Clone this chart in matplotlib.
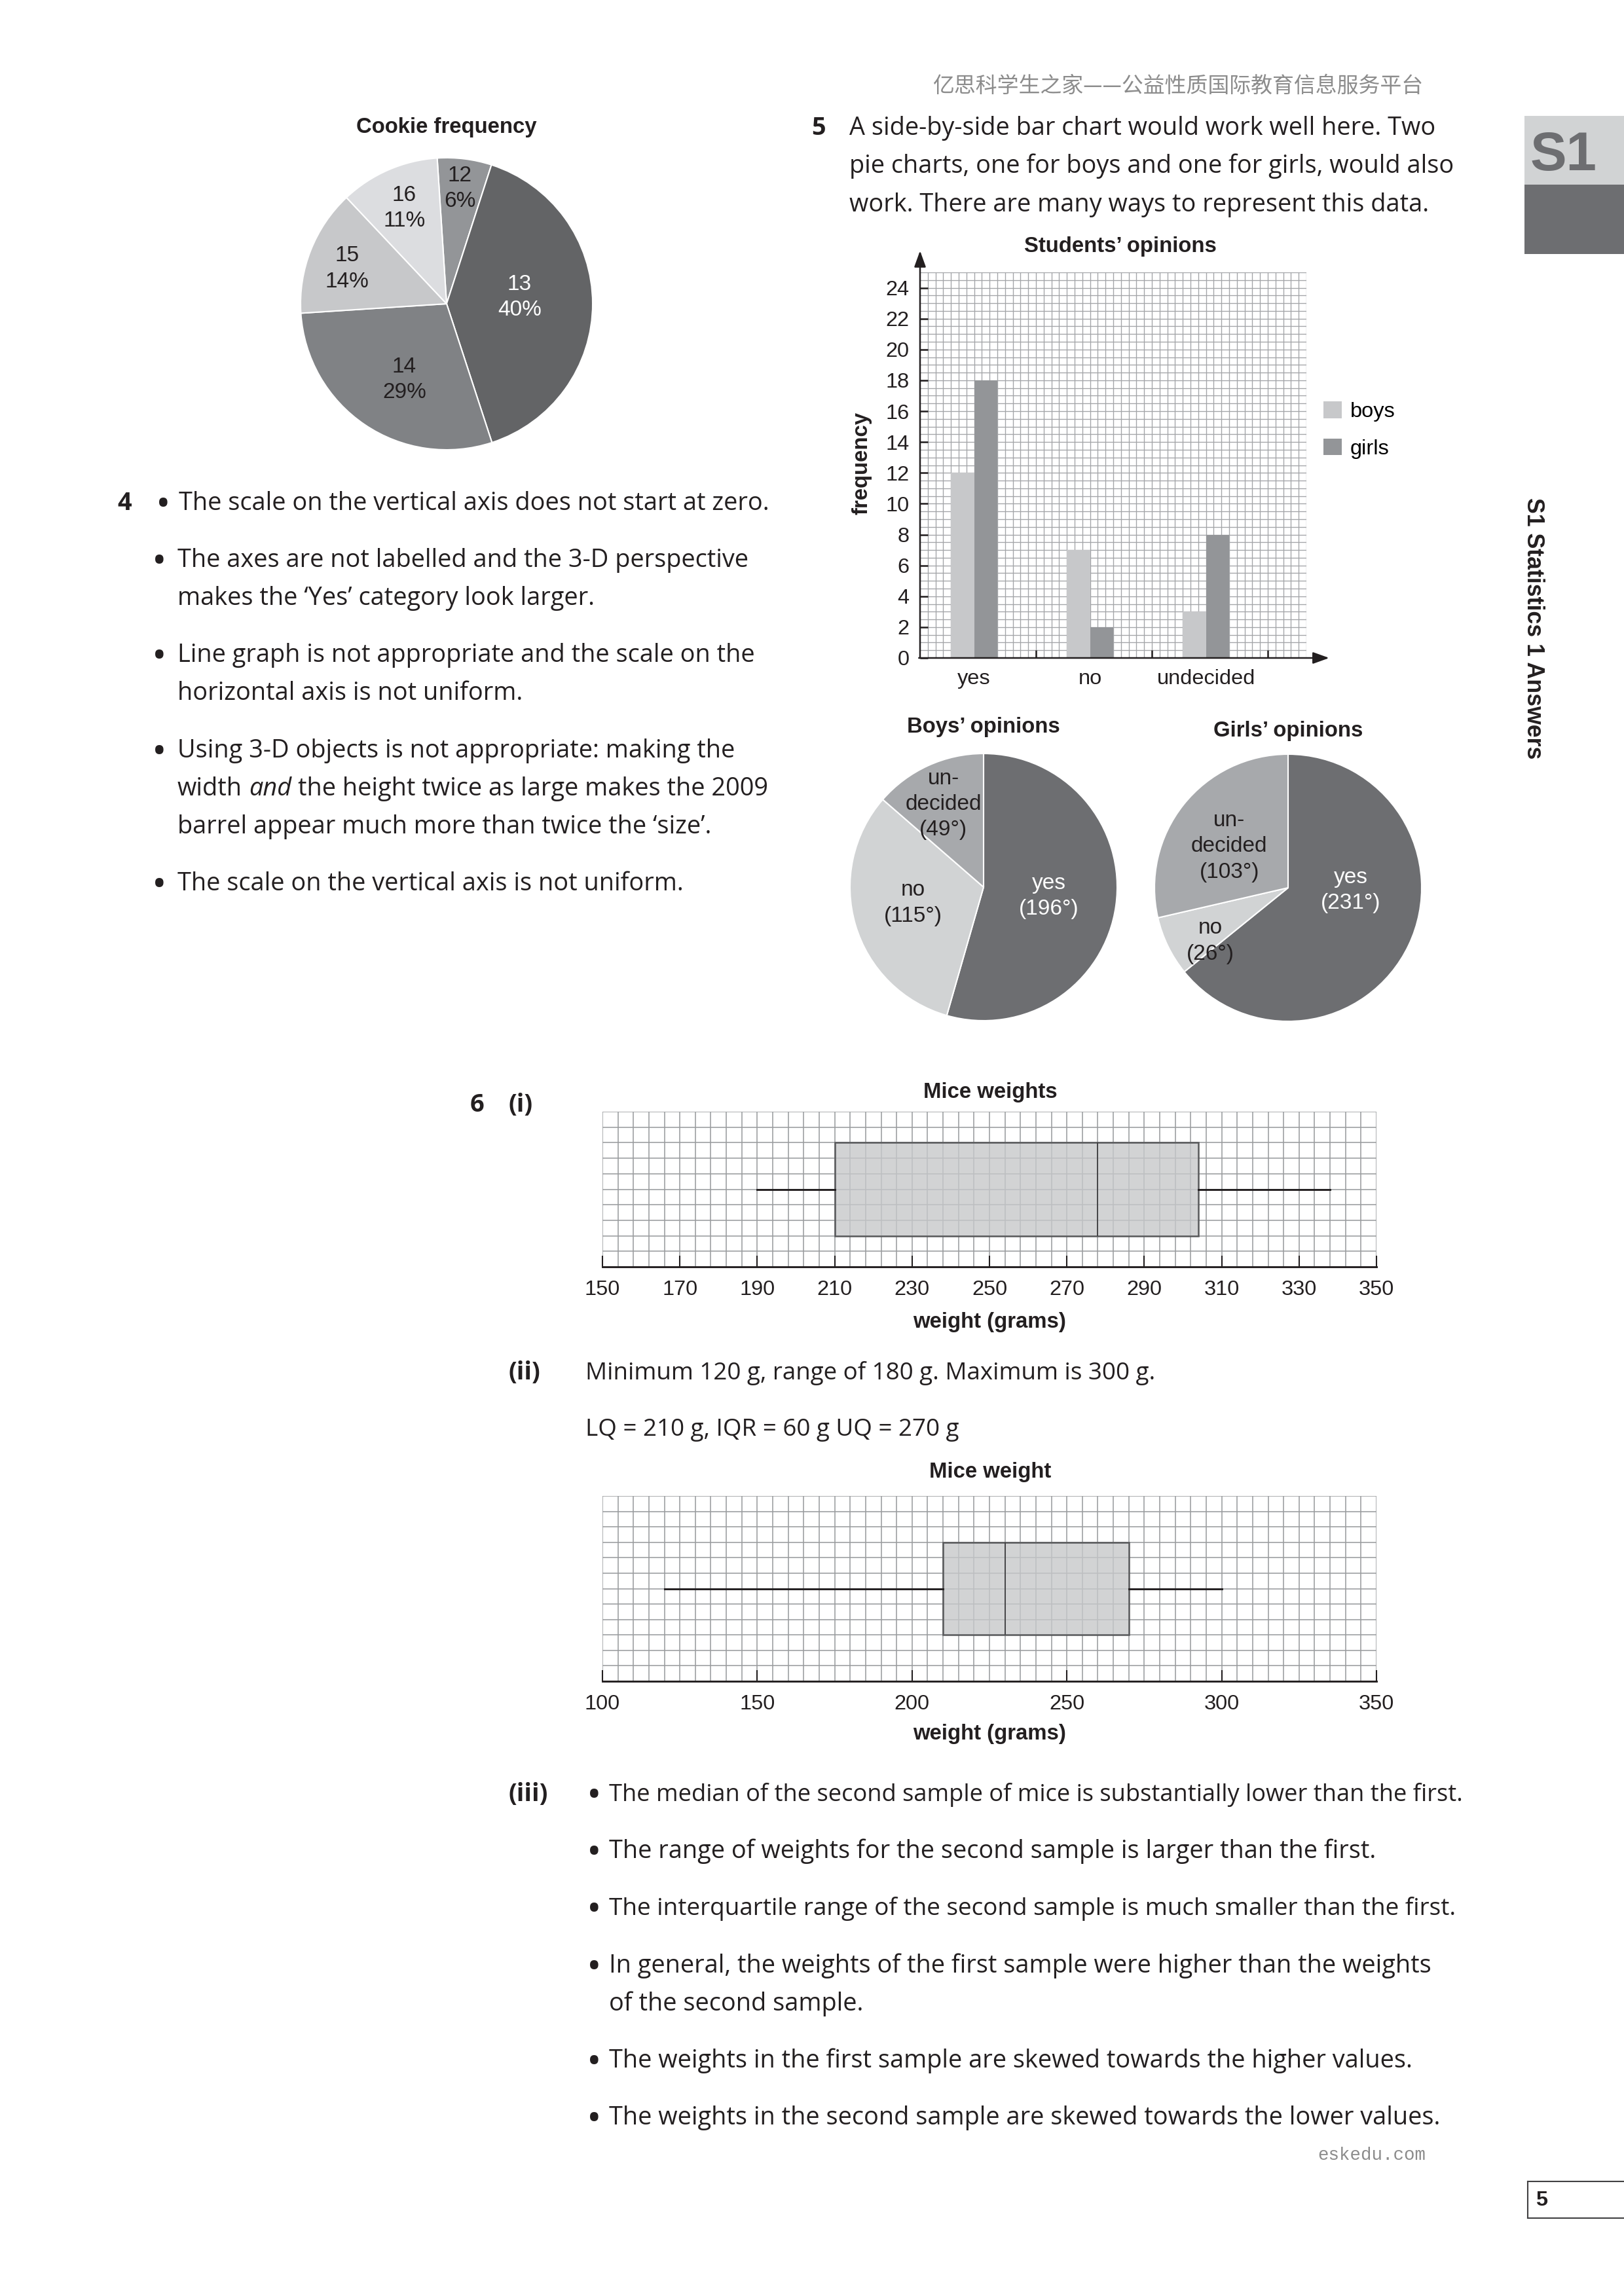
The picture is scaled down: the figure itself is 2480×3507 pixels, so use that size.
import matplotlib
matplotlib.use("Agg")
import matplotlib.pyplot as plt
import numpy as np
from matplotlib.patches import Rectangle
from matplotlib.lines import Line2D

# ---------------- data ----------------
cookie_labels = ["12", "13", "14", "15", "16"]
cookie_pct = [6, 40, 29, 14, 11]

opinion_cats = ["yes", "no", "undecided"]
boys_freq = [12, 7, 3]
girls_freq = [18, 2, 8]
bar_yticks = list(range(0, 25, 2))

pie_cat_text = ["yes", "no", "un-\ndecided"]
boys_deg = [196, 115, 49]
girls_deg = [231, 26, 103]

mice1_stats = dict(whislo=190, q1=210, med=278, q3=304, whishi=338)
mice1_ticks = list(range(150, 351, 20))
mice2_stats = dict(whislo=120, q1=210, med=230, q3=270, whishi=300)
mice2_ticks = list(range(100, 351, 50))

# ---------------- page setup ----------------
W, H = 2480, 3507
DPI = 300
fig = plt.figure(figsize=(W / DPI, H / DPI), dpi=DPI)
fig.patch.set_facecolor("white")

CH = ["Liberation Sans", "DejaVu Sans"]
BODY = ["Open Sans", "DejaVu Sans"]
plt.rcParams["font.family"] = CH
INK = "#231f20"
CFS = 7.8      # chart font size
PFS = 8.0      # pie label font size
BFS = 9.1      # body font size


def fx(x):
    return x / W


def fy(y):
    return 1 - y / H


def txt(x, y, s, **kw):
    kw.setdefault("color", INK)
    return fig.text(fx(x), fy(y), s, **kw)


def axes_px(x0, y0, x1, y1):
    return fig.add_axes([fx(x0), fy(y1), (x1 - x0) / W, (y1 - y0) / H])


renderer = fig.canvas.get_renderer()


def body(x, y, s, **kw):
    kw.setdefault("family", BODY)
    kw.setdefault("fontsize", BFS)
    kw.setdefault("va", "center")
    return txt(x, y + 4, s, **kw)


def bullet(x, y):
    return txt(x, y + 8, "\u2022", family=BODY, fontsize=BFS * 1.6, va="center", ha="left")


def width_px(s, **kw):
    t = fig.text(0, 0, s, **kw)
    w = t.get_window_extent(renderer=renderer).width
    t.remove()
    return w


# ---------------- header / footer / side tab ----------------
txt(1800, 132, "亿思科学生之家——公益性质国际教育信息服务平台", family=["Noto Sans CJK SC", "DejaVu Sans"],
    fontsize=7.9, color="#8c8c8c", ha="center", va="center")
txt(2095, 3292, "eskedu.com", family=["Liberation Mono", "DejaVu Sans Mono"], fontsize=6.6,
    color="#8c8c8c", ha="center", va="center")

fig.add_artist(Rectangle((fx(2328), fy(282)), (W - 2328) / W, (282 - 177) / H,
                         transform=fig.transFigure, facecolor="#d1d3d4", edgecolor="none"))
fig.add_artist(Rectangle((fx(2328), fy(388)), (W - 2328) / W, (388 - 282) / H,
                         transform=fig.transFigure, facecolor="#6d6e71", edgecolor="none"))
txt(2388, 238, "S1", family=CH, fontsize=20, fontweight="bold", color="#6d6e71", ha="center", va="center")
txt(2341, 960, "S1 Statistics 1 Answers", family=CH, fontsize=8.6, fontweight="bold",
    rotation=-90, ha="center", va="center")

# page number box
for (xa, ya, xb, yb) in [(2333, 3332, W, 3332), (2333, 3388, W, 3388), (2333, 3332, 2333, 3388)]:
    fig.add_artist(Line2D([fx(xa), fx(xb)], [fy(ya), fy(yb)], transform=fig.transFigure,
                          color="#414042", lw=0.5))
txt(2345, 3361, "5", family=CH, fontsize=7.8, fontweight="bold", ha="left", va="center")

# ---------------- Cookie frequency pie ----------------
cookie_colors = ["#939598", "#636466", "#808285", "#c7c8ca", "#dcdde0"]
cookie_text_col = [INK, "white", INK, INK, INK]
cookie_lab_pos = [(0.09, 0.79), (0.50, 0.045), (-0.29, -0.52), (-0.68, 0.24), (-0.29, 0.655)]
cx, cy, r = 682, 464, 223
axc = axes_px(cx - r, cy - r, cx + r, cy + r)
wedges, _ = axc.pie(cookie_pct, colors=cookie_colors, startangle=93.7, counterclock=False,
                    wedgeprops=dict(edgecolor="white", linewidth=0.5))
axc.set_xlim(-1, 1)
axc.set_ylim(-1, 1)
for lab, pct, col, (px, py) in zip(cookie_labels, cookie_pct, cookie_text_col, cookie_lab_pos):
    axc.text(px, py, f"{lab}\n{pct}%", ha="center", va="center",
             fontsize=PFS, color=col, linespacing=1.35)
txt(682, 195, "Cookie frequency", family=CH, fontsize=7.9, fontweight="bold", ha="center", va="center")

# ---------------- Students' opinions bar chart ----------------
X0, X1 = 1405, 1995
Y0, Y1 = 1005, 416
axb = axes_px(X0, Y1, X1, Y0)
axb.set_xlim(0, 10 / 3)
axb.set_ylim(0, 25)
axb.vlines(np.arange(1, 51) / 15, 0, 25, color="#a3a5a8", lw=0.32, zorder=0)
axb.hlines(np.arange(1, 51) * 0.5, 0, 10 / 3, color="#a3a5a8", lw=0.32, zorder=0)
xc = np.arange(len(opinion_cats)) + 7 / 15
bb = axb.bar(xc - 0.1, boys_freq, width=0.2, color="#c7c8ca", zorder=2, label="boys")
bg = axb.bar(xc + 0.1, girls_freq, width=0.2, color="#939598", zorder=2, label="girls")
for s in axb.spines.values():
    s.set_visible(False)
arrow = dict(arrowstyle="-|>,head_length=0.5,head_width=0.18", color=INK, lw=0.6,
             mutation_scale=10, shrinkA=0, shrinkB=0)
axb.annotate("", xy=(0, 26.4), xytext=(0, 0), arrowprops=arrow, annotation_clip=False)
axb.annotate("", xy=(3.53, 0), xytext=(-0.01, 0), arrowprops=arrow, annotation_clip=False)
axb.set_yticks(bar_yticks)
axb.set_yticklabels([str(v) for v in bar_yticks], fontsize=CFS, color=INK)
axb.tick_params(axis="y", direction="in", length=2.9, width=0.6, color=INK, pad=4)
axb.set_xticks([1, 2, 3])
axb.set_xticklabels([])
axb.set_xticks(xc, labels=opinion_cats, minor=True)
axb.tick_params(axis="x", which="major", direction="in", length=2.9, width=0.6, color=INK)
axb.tick_params(axis="x", which="minor", length=0, pad=4, labelsize=CFS, labelcolor=INK)
axb.set_facecolor("none")
txt(1711, 377, "Students\u2019 opinions", family=CH, fontsize=7.9, fontweight="bold", ha="center", va="center")
txt(1316, 708, "frequency", family=CH, fontsize=7.9, fontweight="bold", rotation=90, ha="center", va="center")
axb.legend(handles=[bb, bg], loc="upper left", bbox_to_anchor=(fx(2021), fy(613)),
           bbox_transform=fig.transFigure, frameon=False, fontsize=CFS, handlelength=0.85,
           handleheight=0.85, handletextpad=0.4, labelspacing=0.78, borderaxespad=0, borderpad=0)

# ---------------- Boys / Girls pies ----------------
pie_colors = ["#6d6e71", "#d1d3d4", "#a7a9ac"]
pie_text_col = ["white", INK, INK]


def opinion_pie(cx, cy, r, degs, title, ty, lab_pos):
    ax = axes_px(cx - r, cy - r, cx + r, cy + r)
    ax.pie(degs, colors=pie_colors, startangle=90, counterclock=False,
           wedgeprops=dict(edgecolor="white", linewidth=0.5))
    ax.set_xlim(-1, 1)
    ax.set_ylim(-1, 1)
    for t, d, col, (px, py) in zip(pie_cat_text, degs, pie_text_col, lab_pos):
        ax.text(px, py, f"{t}\n({d}\u00b0)", ha="center", va="center", fontsize=PFS,
                color=col, linespacing=1.35)
    txt(cx, ty, title, family=CH, fontsize=7.9, fontweight="bold", ha="center", va="center")


opinion_pie(1502, 1355, 204, boys_deg, "Boys\u2019 opinions", 1110,
            [(0.49, -0.07), (-0.53, -0.12), (-0.30, 0.62)])
opinion_pie(1967, 1356, 204, girls_deg, "Girls\u2019 opinions", 1117,
            [(0.47, -0.02), (-0.58, -0.40), (-0.44, 0.31)])

# ---------------- Mice box plots ----------------


def mice_box(top, bottom, xmin, xmax, gstep, nrows, stats, ticks, title, title_y, lp):
    ax = axes_px(920, top, 2102, bottom)
    ax.set_xlim(xmin, xmax)
    ax.set_ylim(0, nrows)
    ax.vlines(np.arange(xmin, xmax + 0.01, gstep), 0, nrows, color="#9a9c9f", lw=0.38, zorder=0)
    ax.hlines(np.arange(1, nrows + 1), xmin, xmax, color="#9a9c9f", lw=0.38, zorder=0)
    s = dict(stats)
    s["fliers"] = []
    ax.bxp([s], positions=[nrows / 2], widths=6, orientation="horizontal", patch_artist=True,
           showcaps=False, showfliers=False,
           boxprops=dict(facecolor=(0.78, 0.784, 0.792, 0.8), edgecolor="#58595b", linewidth=0.6),
           medianprops=dict(color="#414042", linewidth=0.45),
           whiskerprops=dict(color=INK, linewidth=0.7))
    for k in ["left", "right", "top"]:
        ax.spines[k].set_visible(False)
    ax.spines["bottom"].set_linewidth(0.7)
    ax.spines["bottom"].set_color(INK)
    ax.set_yticks([])
    ax.set_xticks(ticks)
    ax.set_xticklabels([str(t) for t in ticks], fontsize=CFS, color=INK)
    ax.tick_params(axis="x", direction="in", length=4, width=0.5, color=INK, pad=4.7)
    ax.set_xlabel("weight (grams)", fontsize=7.9, fontweight="bold", color=INK, labelpad=lp)
    ax.set_facecolor("none")
    txt(1512, title_y, title, family=CH, fontsize=7.9, fontweight="bold", ha="center", va="center")
    return ax


mice_box(1698, 1935, 150, 350, 4, 10, mice1_stats, mice1_ticks, "Mice weights", 1668, 4.6)
mice_box(2285, 2568, 100, 350, 5, 12, mice2_stats, mice2_ticks, "Mice weight", 2248, 3.6)

# ---------------- body text ----------------
BOLD = dict(fontweight="bold")
# question 4
body(179, 765, "4", **BOLD)
bullet(238, 765)
body(273, 765, "The scale on the vertical axis does not start at zero.")
q4 = [
    [(852, "The axes are not labelled and the 3-D perspective", True),
     (910, "makes the \u2018Yes\u2019 category look larger.", False)],
    [(997, "Line graph is not appropriate and the scale on the", True),
     (1055, "horizontal axis is not uniform.", False)],
    [(1143, "Using 3-D objects is not appropriate: making the", True),
     (1201, None, False),
     (1259, "barrel appear much more than twice the \u2018size\u2019.", False)],
    [(1346, "The scale on the vertical axis is not uniform.", True)],
]
for item in q4:
    for y, s, bul in item:
        if bul:
            bullet(232, y)
        if s is not None:
            body(271, y, s)
        else:
            # line with italic word
            x = 271
            bkw = dict(family=BODY, fontsize=BFS)
            sp = width_px("a a", **bkw) - width_px("aa", **bkw)
            body(x, y, "width")
            x += width_px("width", **bkw) + sp
            body(x, y, "and", style="italic")
            x += width_px("and", style="italic", **bkw) + sp
            body(x, y, "the height twice as large makes the 2009")

# question 5
body(1239, 192, "5", **BOLD)
for y, s in [(192, "A side-by-side bar chart would work well here. Two"),
             (250, "pie charts, one for boys and one for girls, would also"),
             (309, "work. There are many ways to represent this data.")]:
    body(1297, y, s)

# question 6
body(718, 1684, "6", **BOLD)
body(776, 1684, "(i)", **BOLD)
body(776, 2093, "(ii)", **BOLD)
body(894, 2093, "Minimum 120 g, range of 180 g. Maximum is 300 g.", fontsize=BFS * 0.97)
body(894, 2180, "LQ = 210 g, IQR = 60 g UQ = 270 g", fontsize=BFS * 0.97)
body(776, 2737, "(iii)", **BOLD)
q6 = [
    (2737, "The median of the second sample of mice is substantially lower than the first.", True, 0.955),
    (2824, "The range of weights for the second sample is larger than the first.", True, 1.0),
    (2911, "The interquartile range of the second sample is much smaller than the first.", True, 0.975),
    (2999, "In general, the weights of the first sample were higher than the weights", True, 1.0),
    (3057, "of the second sample.", False, 1.0),
    (3144, "The weights in the first sample are skewed towards the higher values.", True, 1.0),
    (3231, "The weights in the second sample are skewed towards the lower values.", True, 1.0),
]
for y, s, bul, k in q6:
    if bul:
        bullet(896, y)
    body(930, y, s, fontsize=BFS * k)

fig.savefig("out.png", dpi=DPI, facecolor="white")
